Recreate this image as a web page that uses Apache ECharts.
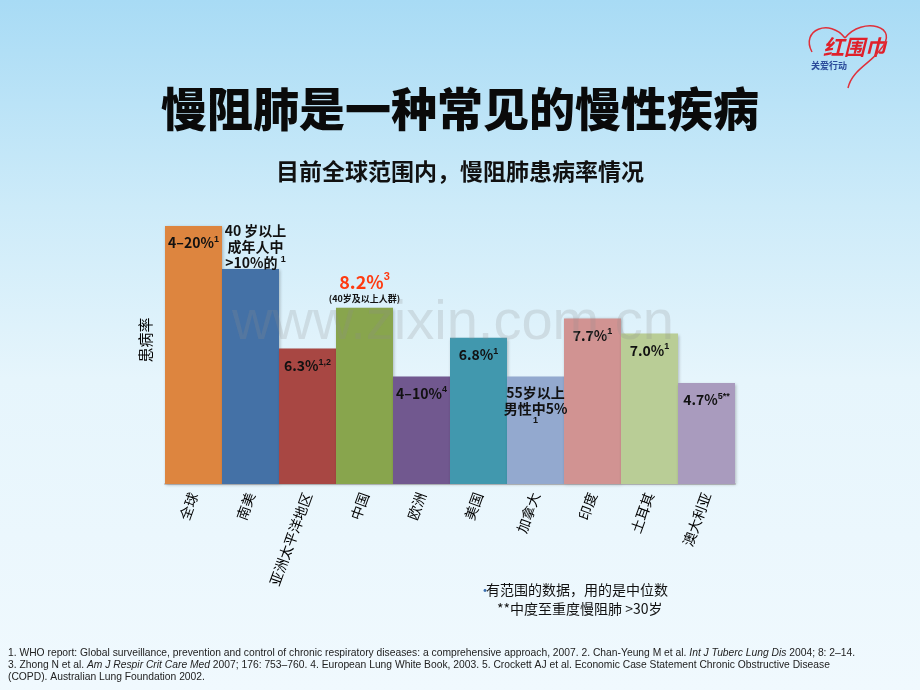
<!DOCTYPE html>
<html><head><meta charset="utf-8">
<script src="https://cdn.jsdelivr.net/npm/echarts@6/dist/echarts.min.js"></script>
<style>html,body{margin:0;padding:0;}#c{width:920px;height:690px;}</style>
</head><body><div id="c"></div>
<script>
var categories = ['全球','南美','亚洲太平洋地区','中国','欧洲','美国','加拿大','印度','土耳其','澳大利亚'];
var values = [12.0, 10.0, 6.3, 8.2, 5.0, 6.8, 5.0, 7.7, 7.0, 4.7];
var colors = ['#dd853f','#4471a6','#a84743','#88a54d','#71588f','#4198ae','#93a9cf','#d19392','#b9cd96','#a99bbe'];
var mainLabels = ['4–20%','40 岁以上\n成年人中\n>10%的 ','6.3%','8.2%','4–10%','6.8%','55岁以上\n男性中5%','7.7%','7.0%','4.7%'];
var supLabels = ['1','1','1,2','3','4','1','1','1','1','5**'];
var footnotes = [
 '{n|1. WHO report: Global surveillance, prevention and control of chronic respiratory diseases: a comprehensive approach, 2007. 2. Chan-Yeung M et al. }{i|Int J Tuberc Lung Dis}{n| 2004; 8: 2–14.}',
 '{n|3. Zhong N et al. }{i|Am J Respir Crit Care Med}{n| 2007; 176: 753–760. 4. European Lung White Book, 2003. 5. Crockett AJ et al. Economic Case Statement Chronic Obstructive Disease}',
 '{n|(COPD). Australian Lung Foundation 2002.}'
];

var chart = echarts.init(document.getElementById('c'));
var rich = {
  a:{fontSize:14,fontWeight:'bold',color:'#111',fontFamily:'Noto Sans CJK SC',lineHeight:16},
  s:{fontSize:9,fontWeight:'bold',color:'#111',padding:[0,0,7,0]},
  r:{fontSize:18,fontWeight:'bold',color:'#ff3a10',fontFamily:'Noto Sans CJK SC'},
  rs:{fontSize:11,fontWeight:'bold',color:'#ff3a10',padding:[0,0,9,0]},
  sm:{fontSize:9,fontWeight:'bold',color:'#111',fontFamily:'Noto Sans CJK SC',lineHeight:14}
};
var data = values.map(function(v,i){
  var lab;
  if(i===1){
    lab = {show:true,position:'top',distance:-2,offset:[5,0],formatter:'{a|40 岁以上}\n{a|成年人中}\n{a|>10%的 }{s|1}',rich:rich};
  } else if(i===3){
    lab = {show:true,position:'top',distance:2,formatter:'{r|8.2%}{rs|3}\n{sm|(40岁及以上人群)}',rich:rich};
  } else if(i===6){
    lab = {show:true,position:'insideTop',distance:8,formatter:'{a|55岁以上}\n{a|男性中5%}\n{s|1}',rich:rich};
  } else {
    lab = {show:true,position:'insideTop',distance:9,formatter:'{a|'+mainLabels[i]+'}{s|'+supLabels[i]+'}',rich:rich};
  }
  return {value:v,itemStyle:{color:colors[i]},label:lab};
});

var option = {
  backgroundColor:{type:'linear',x:0,y:0,x2:0,y2:1,colorStops:[
    {offset:0,color:'#a8dbf5'},{offset:0.3,color:'#cdebf9'},{offset:0.55,color:'#e6f5fc'},{offset:1,color:'#f0f9fe'}]},
  grid:{left:165,right:185,top:226,bottom:206},
  xAxis:{type:'category',data:categories,
    axisLine:{show:true,lineStyle:{color:'#c4c8cc',width:2}},axisTick:{show:false},
    axisLabel:{rotate:70,fontSize:14,color:'#000',margin:9,interval:0,fontFamily:'Noto Sans CJK SC'}},
  yAxis:{type:'value',min:0,max:12,name:'患病率',nameLocation:'middle',nameRotate:90,nameGap:12,
    nameTextStyle:{fontSize:15,color:'#000',fontFamily:'Noto Sans CJK SC',padding:[0,0,0,30]},
    axisLine:{show:false},axisTick:{show:false},axisLabel:{show:false},splitLine:{show:false}},
  series:[{type:'bar',data:data,barCategoryGap:'0%',barGap:'0%',
    itemStyle:{shadowColor:'rgba(0,0,0,0.25)',shadowBlur:3,shadowOffsetX:1,shadowOffsetY:1},
    animation:false}],
  graphic:[
    {type:'text',left:'center',top:86,style:{text:'慢阻肺是一种常见的慢性疾病',font:'900 46px "Noto Sans CJK SC"',fill:'#0a0a0a',
      shadowColor:'rgba(0,0,0,0.45)',shadowBlur:3,shadowOffsetX:2,shadowOffsetY:2}},
    {type:'text',left:'center',top:160,style:{text:'目前全球范围内，慢阻肺患病率情况',font:'bold 23px "Noto Sans CJK SC"',fill:'#111'}},
    {type:'text',left:478,top:583,style:{text:'•',font:'14px "Noto Sans CJK SC"',fill:'#3a6fb0'}},
    {type:'text',left:486,top:583,style:{text:'有范围的数据，用的是中位数',font:'14px "Noto Sans CJK SC"',fill:'#111'}},
    {type:'text',left:497,top:602,style:{text:'**中度至重度慢阻肺 >30岁',font:'14px "Noto Sans CJK SC"',fill:'#111'}},
    {type:'text',left:8,top:648,style:{text:footnotes.join('\n'),fill:'#222',
      rich:{n:{fontSize:10.3,fontFamily:'Liberation Sans',color:'#222',lineHeight:12},
            i:{fontSize:10.3,fontFamily:'Liberation Sans',fontStyle:'italic',color:'#222',lineHeight:12}}}},
    {type:'text',left:232,top:296,z:100,style:{text:'www.zixin.com.cn',font:'56px "Liberation Sans"',fill:'rgba(140,140,140,0.22)'}},
    {type:'bezierCurve',z:5,shape:{x1:845,y1:38,x2:812,y2:52,cpx1:830,cpy1:18,cpx2:800,cpy2:30},style:{stroke:'#e0303a',fill:null,lineWidth:1.5}},
    {type:'bezierCurve',z:5,shape:{x1:845,y1:38,x2:880,y2:50,cpx1:862,cpy1:16,cpx2:902,cpy2:26},style:{stroke:'#e0303a',fill:null,lineWidth:1.5}},
    {type:'bezierCurve',z:5,shape:{x1:880,y1:50,x2:848,y2:88,cpx1:870,cpy1:64,cpx2:852,cpy2:70},style:{stroke:'#e0303a',fill:null,lineWidth:1.5}},
    {type:'text',left:823,top:37,style:{text:'红围巾',font:'italic bold 21px "Noto Sans CJK SC"',fill:'#e0202a'}},
    {type:'text',left:811,top:61,style:{text:'关爱行动',font:'bold 9px "Noto Sans CJK SC"',fill:'#2a4a9a'}}
  ]
};
chart.setOption(option);
</script></body></html>
